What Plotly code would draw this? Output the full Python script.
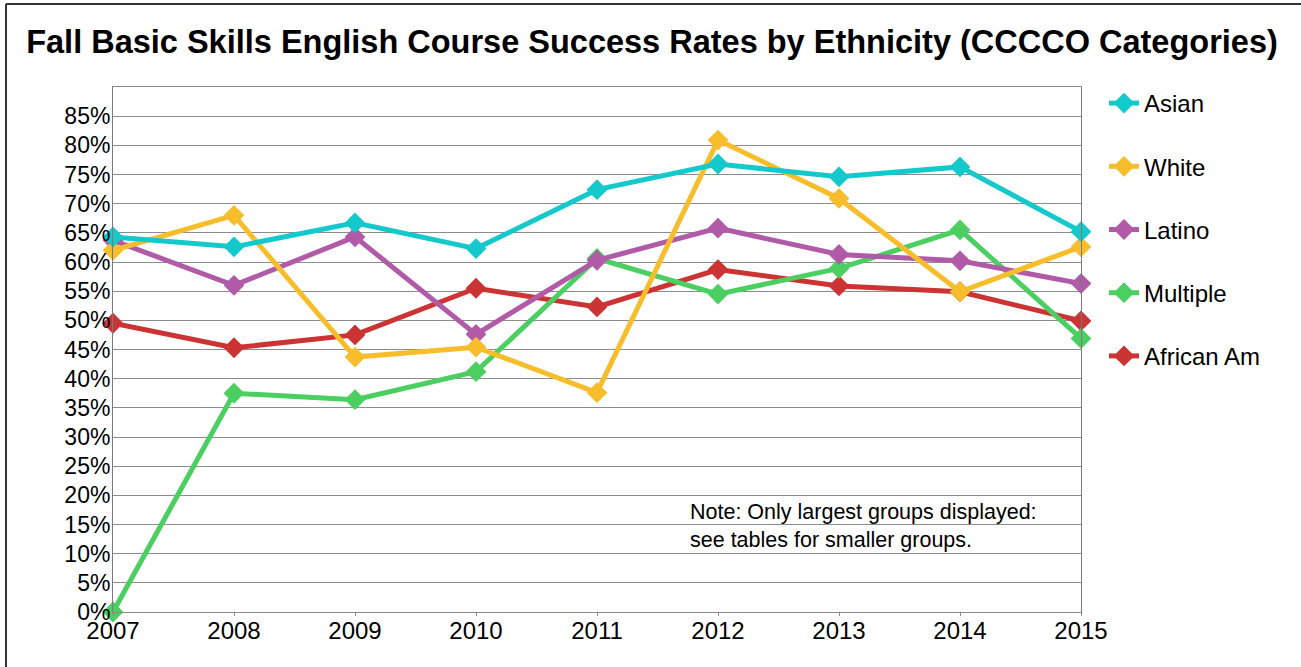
import plotly.graph_objects as go

years = [2007, 2008, 2009, 2010, 2011, 2012, 2013, 2014, 2015]
asian = [64.3, 62.6, 66.7, 62.3, 72.4, 76.8, 74.6, 76.3, 65.2]
white = [62.0, 68.0, 43.7, 45.4, 37.6, 80.9, 70.9, 54.9, 62.6]
latino = [63.7, 56.0, 64.3, 47.6, 60.3, 65.8, 61.3, 60.2, 56.3]
multiple = [0.0, 37.5, 36.4, 41.2, 60.6, 54.5, 58.9, 65.5, 46.9]
african_am = [49.5, 45.3, 47.5, 55.5, 52.3, 58.7, 55.9, 54.9, 49.9]

series = [
    ("Asian", asian, "#14C9CC"),
    ("White", white, "#F8BD2B"),
    ("Latino", latino, "#B05AA8"),
    ("Multiple", multiple, "#4BCF60"),
    ("African Am", african_am, "#CC3333"),
]

y_ticks = list(range(0, 90, 5))
y_labels = [f"{v}%" for v in y_ticks]

# body margin is removed by post_script, so figure px == screen px
W, H = 1301, 667
L, R, T, B = 113, 1081, 87, 612

fig = go.Figure()
for rank, (name, vals, color) in reversed(list(enumerate(series))):
    fig.add_trace(go.Scatter(
        x=years, y=vals, name=name, mode="lines+markers",
        line=dict(color=color, width=5),
        marker=dict(symbol="diamond", size=16, color=color),
        legendgroup=name, legendrank=rank + 1, cliponaxis=False,
    ))

def px_x(px):  # screen px -> paper
    return (px - L) / (R - L)

def px_y(py):
    return (B - py) / (B - T)

font = "Liberation Sans, Arial, sans-serif"
fig.update_layout(
    width=W, height=H,
    margin=dict(l=L, r=W - R, t=T, b=H - B),
    paper_bgcolor="white", plot_bgcolor="white",
    font=dict(family=font, color="black", size=22),
    title=dict(text="<b>Fall Basic Skills English Course Success Rates by Ethnicity (CCCCO Categories)</b>",
               x=652 / W, xanchor="center", y=1 - 42 / H, yanchor="middle",
               font=dict(size=32.5, family=font, color="black")),
    xaxis=dict(range=[2007, 2015], tickmode="array", tickvals=years,
               ticktext=[str(y) for y in years], showgrid=False, zeroline=False,
               showline=True, linecolor="#8a8a8a", linewidth=1, mirror=True,
               ticks="outside", ticklen=3, tickcolor="#8a8a8a",
               tickfont=dict(size=24), ticklabelstandoff=-6),
    yaxis=dict(range=[0, 90], tickmode="array", tickvals=y_ticks, ticktext=y_labels,
               showgrid=True, gridcolor="#8c8c8c", gridwidth=1, zeroline=False,
               showline=True, linecolor="#7a7a7a", linewidth=1, mirror=True,
               ticks="", tickfont=dict(size=23), ticklabelstandoff=-3),
    legend=dict(x=px_x(1104), xanchor="left", y=px_y(81), yanchor="top",
                traceorder="grouped", tracegroupgap=29,
                font=dict(size=24, family=font), bgcolor="rgba(0,0,0,0)",
                itemwidth=30),
    showlegend=True,
)

fig.add_annotation(
    x=px_x(688), y=px_y(498), xref="paper", yref="paper",
    xanchor="left", yanchor="top", align="left", showarrow=False,
    text="Note: Only largest groups displayed:<br>see tables for smaller groups.",
    font=dict(size=21.5, family=font, color="black"),
)

# outer frame (left and top edges)
fig.add_shape(type="line", xref="paper", yref="paper",
              x0=px_x(6), x1=px_x(6), y0=px_y(700), y1=px_y(4),
              line=dict(color="#333333", width=2))
fig.add_shape(type="line", xref="paper", yref="paper",
              x0=px_x(6), x1=px_x(1320), y0=px_y(4), y1=px_y(4),
              line=dict(color="#333333", width=2))

fig.write_html(
    "out.html",
    config={"displayModeBar": False},
    post_script="document.body.style.margin='0';document.body.style.overflow='hidden';",
)
